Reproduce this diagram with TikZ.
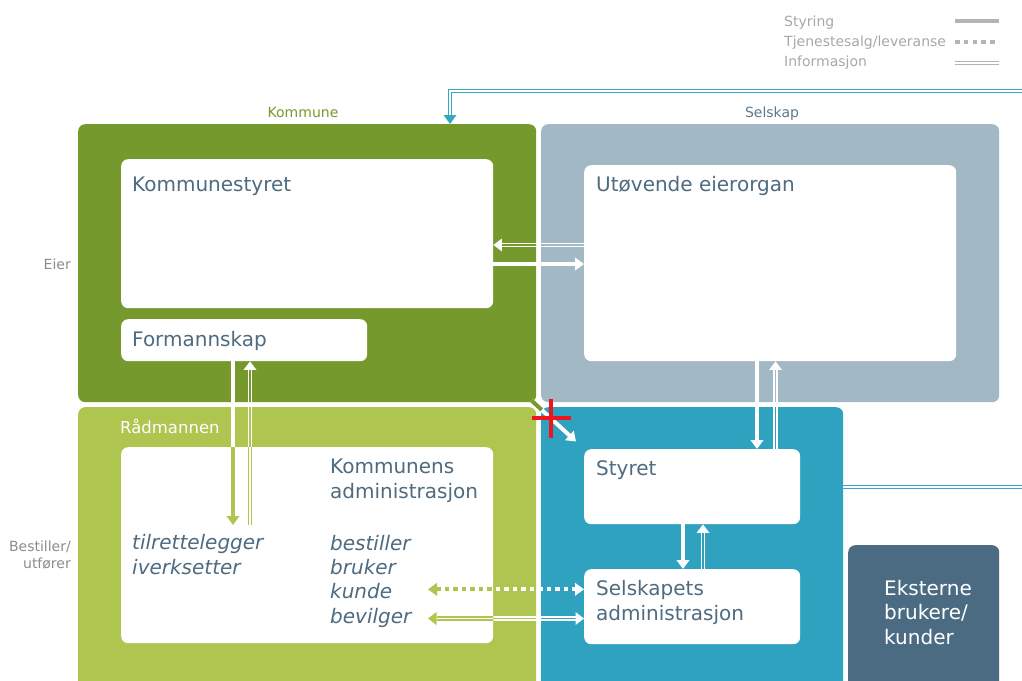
\documentclass[tikz,border=0pt]{standalone}
\usepackage{fontspec}
\setmainfont{DejaVu Sans}
\usetikzlibrary{arrows.meta,calc}
\definecolor{dkgreen}{HTML}{76992D}
\definecolor{ltgreen}{HTML}{AEC54F}
\definecolor{grayb}{HTML}{A2B8C5}
\definecolor{selblue}{HTML}{2FA2BF}
\definecolor{extc}{HTML}{4B6B83}
\definecolor{txtc}{HTML}{4E6B80}
\definecolor{legc}{HTML}{A8A8A8}
\definecolor{leglc}{HTML}{B4B4B4}
\definecolor{sidec}{HTML}{8C8C8C}
\definecolor{selc}{HTML}{5E788A}
\definecolor{cyanl}{HTML}{3AA6C1}
\definecolor{crossc}{HTML}{F0141E}
% double-line "informasjon" arrow: #1 colour, #2 start, #3 tip
\newcommand\infoarrow[3]{%
  \path (#2) coordinate (ia-s) (#3) coordinate (ia-t);
  \path ($(ia-t)!8.5pt!(ia-s)$) coordinate (ia-b);
  \draw[#1, line width=1.25pt] ($(ia-s)!1.45pt!90:(ia-b)$) -- ($(ia-b)!1.45pt!-90:(ia-s)$);
  \draw[#1, line width=1.25pt] ($(ia-s)!1.45pt!-90:(ia-b)$) -- ($(ia-b)!1.45pt!90:(ia-s)$);
  \fill[#1] (ia-t) -- ($(ia-b)!6.5pt!90:(ia-t)$) -- ($(ia-b)!6.5pt!-90:(ia-t)$) -- cycle;
}
\begin{document}
\begin{tikzpicture}[x=1pt,y=-1pt,
  box/.style={rounded corners=7pt, inner sep=0pt, anchor=north west, draw=none},
  wbox/.style={box, fill=white},
  txt/.style={anchor=base west, inner sep=0pt, text=txtc, align=left,
    font=\fontsize{20}{24.5}\selectfont},
  small/.style={inner sep=0pt, font=\fontsize{14}{17}\selectfont},
  styr/.style={line width=4pt, -{Triangle[length=9pt,width=12.5pt]}},
  tjen/.style={line width=4pt, dash pattern=on 4.5pt off 4pt,
    {Triangle[length=9pt,width=12.5pt]}-{Triangle[length=9pt,width=12.5pt]}},
  infol/.style={line width=1.2pt, double=white, double distance=1.5pt},
]
\useasboundingbox (0,0) rectangle (1022,680);
\clip (0,0) rectangle (1022,680);

% ---------- big areas
\node[box, fill=dkgreen, minimum width=458pt, minimum height=278pt] (kom) at (78,124) {};
\node[box, fill=grayb, minimum width=458pt, minimum height=278pt] (sel) at (541,124) {};
\node[box, fill=ltgreen, minimum width=458pt, minimum height=300pt] (rad) at (78,407) {};
\node[box, fill=selblue, minimum width=302pt, minimum height=300pt] (sb) at (541,407) {};
\node[box, fill=extc, minimum width=151pt, minimum height=150pt] (ext) at (848,545) {};

% ---------- white boxes
\node[wbox, minimum width=372pt, minimum height=149pt] (ks) at (121,159) {};
\node[wbox, minimum width=246pt, minimum height=42pt] (fm) at (121,319) {};
\node[wbox, minimum width=372pt, minimum height=196pt] (ue) at (584,165) {};
\node[wbox, minimum width=372pt, minimum height=196pt] (ka) at (121,447) {};
\node[wbox, minimum width=216pt, minimum height=75pt] (st) at (584,449) {};
\node[wbox, minimum width=216pt, minimum height=75pt] (sa) at (584,569) {};

% ---------- texts (multi-line nodes: base = last line)
\node[txt] (t-ks) at (132,191) {Kommunestyret};
\node[txt] (t-fm) at (132,346) {Formannskap};
\node[txt] (t-ue) at (596,191) {Utøvende eierorgan};
\node[txt] (t-ka) at (330,498) {Kommunens\\administrasjon};
\node[txt, font=\fontsize{20}{24.3}\selectfont\itshape] (t-ti) at (132,574) {tilrettelegger\\iverksetter};
\node[txt, font=\fontsize{20}{24.3}\selectfont\itshape] (t-be) at (330,623) {bestiller\\bruker\\kunde\\bevilger};
\node[txt] (t-st) at (596,475) {Styret};
\node[txt] (t-sa) at (596,620) {Selskapets\\administrasjon};
\node[txt, text=white] (t-ex) at (884,644) {Eksterne\\brukere/\\kunder};
\node[inner sep=0pt, anchor=base west, text=white, font=\fontsize{16.5}{20}\selectfont] (t-rad) at (120,433) {Rådmannen};
\node[small, anchor=base, text=dkgreen] (t-kom) at (303,117) {Kommune};
\node[small, anchor=base, text=selc] (t-sel) at (772,117) {Selskap};
\node[small, anchor=base east, text=sidec] (t-eier) at (71,269) {Eier};
\node[small, anchor=base east, text=sidec, align=right] (t-bu) at (71,568) {Bestiller/\\utfører};

% ---------- legend
\node[small, anchor=base west, text=legc] (lg1) at (784,27) {Styring};
\node[small, anchor=base west, text=legc] (lg2) at (784,46.5) {Tjenestesalg/leveranse};
\node[small, anchor=base west, text=legc] (lg3) at (784,66) {Informasjon};
\coordinate (lgA1) at (955,21.3); \coordinate (lgB1) at (999,21.3);
\coordinate (lgA2) at (955,42.3); \coordinate (lgB2) at (999,42.3);
\coordinate (lgA3) at (955,61.6); \coordinate (lgB3) at (999,61.6);
\coordinate (lgA4) at (955,64.6); \coordinate (lgB4) at (999,64.6);
\draw[leglc, line width=4pt] (lgA1) -- (lgB1);
\draw[leglc, line width=4pt, dash pattern=on 4.6pt off 4.2pt] (lgA2) -- (lgB2);
\draw[leglc, line width=1.2pt] (lgA3) -- (lgB3);
\draw[leglc, line width=1.2pt] (lgA4) -- (lgB4);

% ---------- helper coordinates
\coordinate (yA) at (0,245);
\coordinate (yB) at (0,264);
\coordinate (xF1) at (233,0);
\coordinate (xF2) at (250,0);
\coordinate (yF) at (0,525);
\coordinate (xU1) at (757,0);
\coordinate (xU2) at (775.5,0);
\coordinate (xS1) at (683,0);
\coordinate (xS2) at (703,0);
\coordinate (yD) at (0,589.3);
\coordinate (yI) at (0,618.5);
\coordinate (xL) at (428,0);
\coordinate (mI) at (505,618.5);

% ---------- connectors (white over colour)
\infoarrow{white}{ue.west |- yA}{ks.east |- yA}
\draw[styr, white] (ks.east |- yB) -- (ue.west |- yB);

\draw[styr, white] (xF1 |- fm.south) -- (xF1 |- yF);
\infoarrow{white}{xF2 |- yF}{xF2 |- fm.south}

\draw[styr, white] (xU1 |- ue.south) -- (xU1 |- st.north);
\infoarrow{white}{xU2 |- st.north}{xU2 |- ue.south}

\draw[styr, white] (xS1 |- st.south) -- (xS1 |- sa.north);
\infoarrow{white}{xS2 |- sa.north}{xS2 |- st.south}

\draw[tjen, white] (xL |- yD) -- (sa.west |- yD);
\infoarrow{white}{mI}{xL |- yI}
\infoarrow{white}{mI}{sa.west |- yI}

% ---------- same connectors in colour where they cross the white box
\begin{scope}
  \clip[rounded corners=7pt] (ka.south west) rectangle (ka.north east);
  \draw[styr, ltgreen] (xF1 |- fm.south) -- (xF1 |- yF);
  \infoarrow{ltgreen}{xF2 |- yF}{xF2 |- fm.south}
  \draw[tjen, ltgreen] (xL |- yD) -- (sa.west |- yD);
  \infoarrow{ltgreen}{mI}{xL |- yI}
\end{scope}

% ---------- diagonal arrow and red cross
\coordinate (dg0) at ($(kom.south east)+(-5,-2)$);
\coordinate (dg1) at (576,441.5);
\draw[styr, white] (dg0) -- (dg1);
\draw[dkgreen, line width=4pt] (dg0) -- ($(dg0)!0.23!(dg1)$);
\coordinate (rc) at (551,417.5);
\draw[crossc, line width=4pt] ($(rc)+(-19.5,0)$) -- ($(rc)+(19.5,0)$)
  ($(rc)+(0,-19)$) -- ($(rc)+(0,20)$);

% ---------- cyan information lines
\coordinate (cyR1) at (1030,91);
\coordinate (cyX) at (450,0);
\draw[cyanl, infol] (cyR1) -| ($(cyX |- kom.north)+(0,-8)$);
\fill[cyanl] (cyX |- kom.north) -- ++(-6.5,-9) -- ++(13,0) -- cycle;
\coordinate (cyR2) at (1030,487);
\draw[cyanl, infol] (sb.east |- cyR2) -- (cyR2);
\end{tikzpicture}
\end{document}
